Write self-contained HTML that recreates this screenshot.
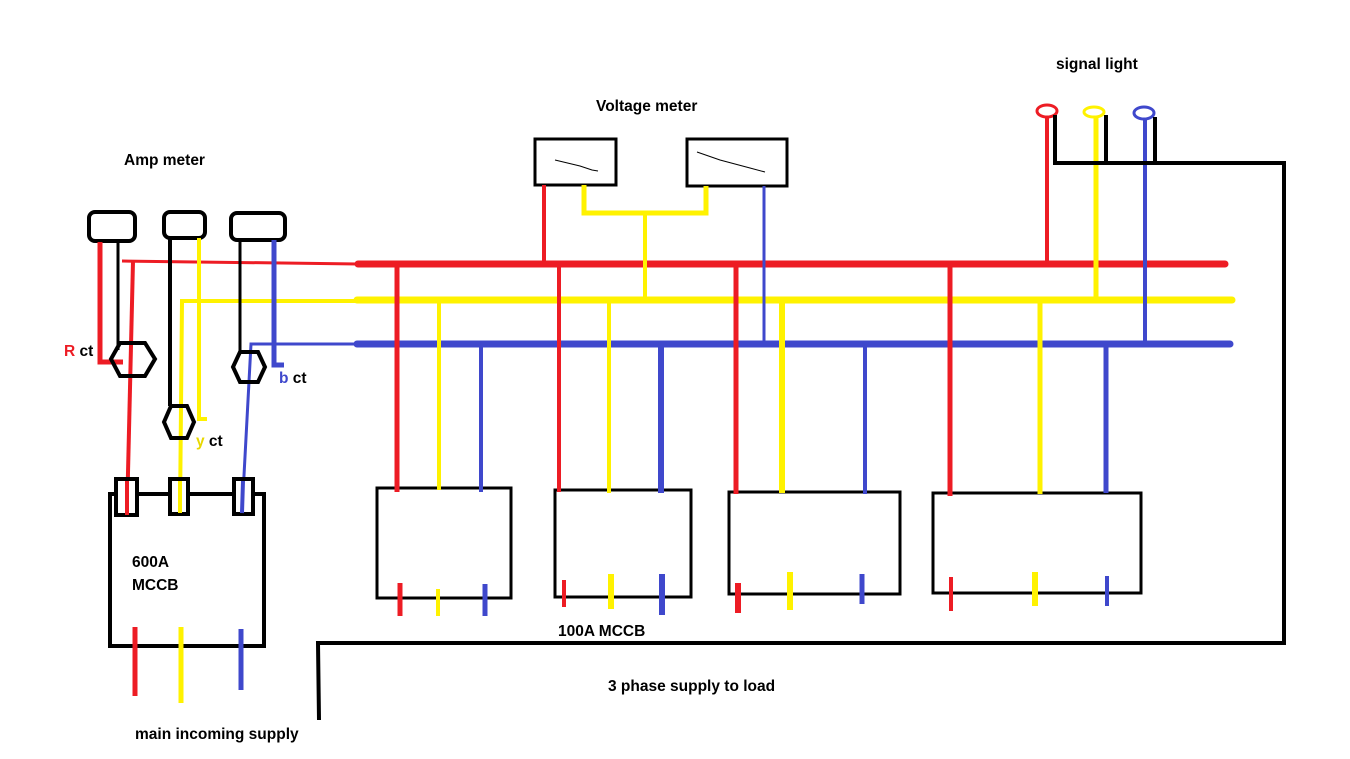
<!DOCTYPE html>
<html><head><style>body{margin:0;background:#fff}svg{display:block}text{font-family:"Liberation Sans",sans-serif;font-weight:bold;font-size:15.5px}</style></head>
<body>
<svg width="1350" height="759" viewBox="0 0 1350 759" xmlns="http://www.w3.org/2000/svg">
<rect width="1350" height="759" fill="#fff"/>
<g stroke-linecap="butt" fill="none">
<line x1="358" y1="264" x2="1225" y2="264" stroke="#ed1c24" stroke-width="7" stroke-linecap="round"/>
<line x1="357" y1="300" x2="1232" y2="300" stroke="#fff200" stroke-width="7" stroke-linecap="round"/>
<line x1="357" y1="344" x2="1230" y2="344" stroke="#3f48cc" stroke-width="7" stroke-linecap="round"/>
<rect x="89" y="212" width="46" height="29" rx="6" stroke="#000" stroke-width="4"/>
<rect x="164" y="212" width="41" height="26" rx="6" stroke="#000" stroke-width="4"/>
<rect x="231" y="213" width="54" height="27" rx="6" stroke="#000" stroke-width="4"/>
<polyline points="100,242 100,362 123,362" stroke="#ed1c24" stroke-width="5"/>
<line x1="118" y1="240" x2="118" y2="350" stroke="#000" stroke-width="3"/>
<line x1="122" y1="261" x2="358" y2="264" stroke="#ed1c24" stroke-width="3"/>
<line x1="133" y1="261" x2="127" y2="515" stroke="#ed1c24" stroke-width="4"/>
<line x1="170" y1="238" x2="170" y2="406" stroke="#000" stroke-width="4"/>
<polyline points="199,238 199,419 207,419" stroke="#fff200" stroke-width="4"/>
<polyline points="358,301 182,301 180,513" stroke="#fff200" stroke-width="4"/>
<line x1="240" y1="238" x2="240" y2="352" stroke="#000" stroke-width="3"/>
<polyline points="274,240 274,365 284,365" stroke="#3f48cc" stroke-width="5"/>
<polyline points="356,344 251,344 242,513" stroke="#3f48cc" stroke-width="3"/>
<polygon points="111,359 120,343 145,343 155,359 145,376 120,376" stroke="#000" stroke-width="4"/>
<polygon points="164,422 171,406 187,406 194,422 187,438 171,438" stroke="#000" stroke-width="4"/>
<polygon points="233,367 240,352 258,352 265,367 258,382 240,382" stroke="#000" stroke-width="4"/>
<rect x="110" y="494" width="154" height="152" stroke="#000" stroke-width="4"/>
<rect x="116" y="479" width="21" height="36" stroke="#000" stroke-width="4" fill="#fff"/>
<rect x="170" y="479" width="18" height="35" stroke="#000" stroke-width="4" fill="#fff"/>
<rect x="234" y="479" width="19" height="35" stroke="#000" stroke-width="4" fill="#fff"/>
<line x1="127" y1="481" x2="127" y2="515" stroke="#ed1c24" stroke-width="4"/>
<line x1="180" y1="481" x2="180" y2="513" stroke="#fff200" stroke-width="4"/>
<line x1="243" y1="481" x2="242" y2="513" stroke="#3f48cc" stroke-width="4"/>
<line x1="135" y1="627" x2="135" y2="696" stroke="#ed1c24" stroke-width="5"/>
<line x1="181" y1="627" x2="181" y2="703" stroke="#fff200" stroke-width="5"/>
<line x1="241" y1="629" x2="241" y2="690" stroke="#3f48cc" stroke-width="5"/>
<rect x="535" y="139" width="81" height="46" stroke="#000" stroke-width="3"/>
<rect x="687" y="139" width="100" height="47" stroke="#000" stroke-width="3"/>
<polyline points="555,160 580,166 592,170 598,171" stroke="#000" stroke-width="1"/>
<polyline points="697,152 720,160 750,168 765,172" stroke="#000" stroke-width="1"/>
<line x1="544" y1="185" x2="544" y2="264" stroke="#ed1c24" stroke-width="4"/>
<polyline points="584,185 584,213 706,213 706,186" stroke="#fff200" stroke-width="5"/>
<line x1="645" y1="213" x2="645" y2="300" stroke="#fff200" stroke-width="4"/>
<line x1="764" y1="186" x2="764" y2="344" stroke="#3f48cc" stroke-width="3"/>
<ellipse cx="1047" cy="111" rx="10" ry="6" stroke="#ed1c24" stroke-width="3"/>
<ellipse cx="1094" cy="112" rx="10" ry="5" stroke="#fff200" stroke-width="3"/>
<ellipse cx="1144" cy="113" rx="10" ry="6" stroke="#3f48cc" stroke-width="3"/>
<line x1="1047" y1="117" x2="1047" y2="264" stroke="#ed1c24" stroke-width="4"/>
<line x1="1096" y1="118" x2="1096" y2="300" stroke="#fff200" stroke-width="5"/>
<line x1="1145" y1="119" x2="1145" y2="344" stroke="#3f48cc" stroke-width="4"/>
<polyline points="1055,115 1055,163 1284,163 1284,643 318,643 319,720" stroke="#000" stroke-width="4"/>
<line x1="1106" y1="115" x2="1106" y2="163" stroke="#000" stroke-width="4"/>
<line x1="1155" y1="117" x2="1155" y2="163" stroke="#000" stroke-width="4"/>
<rect x="377" y="488" width="134" height="110" stroke="#000" stroke-width="3"/>
<rect x="555" y="490" width="136" height="107" stroke="#000" stroke-width="3"/>
<rect x="729" y="492" width="171" height="102" stroke="#000" stroke-width="3"/>
<rect x="933" y="493" width="208" height="100" stroke="#000" stroke-width="3"/>
<g stroke-width="5">
<line x1="397" y1="264" x2="397" y2="492" stroke="#ed1c24"/>
<line x1="439" y1="300" x2="439" y2="490" stroke="#fff200" stroke-width="4"/>
<line x1="481" y1="344" x2="481" y2="492" stroke="#3f48cc" stroke-width="4"/>
<line x1="559" y1="264" x2="559" y2="492" stroke="#ed1c24" stroke-width="4"/>
<line x1="609" y1="300" x2="609" y2="493" stroke="#fff200" stroke-width="4"/>
<line x1="661" y1="344" x2="661" y2="493" stroke="#3f48cc" stroke-width="6"/>
<line x1="736" y1="264" x2="736" y2="494" stroke="#ed1c24"/>
<line x1="782" y1="300" x2="782" y2="493" stroke="#fff200" stroke-width="6"/>
<line x1="865" y1="344" x2="865" y2="494" stroke="#3f48cc" stroke-width="4"/>
<line x1="950" y1="264" x2="950" y2="496" stroke="#ed1c24"/>
<line x1="1040" y1="300" x2="1040" y2="494" stroke="#fff200"/>
<line x1="1106" y1="344" x2="1106" y2="493" stroke="#3f48cc"/>
<line x1="400" y1="583" x2="400" y2="616" stroke="#ed1c24"/>
<line x1="438" y1="589" x2="438" y2="616" stroke="#fff200" stroke-width="4"/>
<line x1="485" y1="584" x2="485" y2="616" stroke="#3f48cc"/>
<line x1="564" y1="580" x2="564" y2="607" stroke="#ed1c24" stroke-width="4"/>
<line x1="611" y1="574" x2="611" y2="609" stroke="#fff200" stroke-width="6"/>
<line x1="662" y1="574" x2="662" y2="615" stroke="#3f48cc" stroke-width="6"/>
<line x1="738" y1="583" x2="738" y2="613" stroke="#ed1c24" stroke-width="6"/>
<line x1="790" y1="572" x2="790" y2="610" stroke="#fff200" stroke-width="6"/>
<line x1="862" y1="574" x2="862" y2="604" stroke="#3f48cc"/>
<line x1="951" y1="577" x2="951" y2="611" stroke="#ed1c24" stroke-width="4"/>
<line x1="1035" y1="572" x2="1035" y2="606" stroke="#fff200" stroke-width="6"/>
<line x1="1107" y1="576" x2="1107" y2="606" stroke="#3f48cc" stroke-width="4"/>
</g>
</g>
<text x="124" y="165">Amp meter</text>
<text x="596" y="111">Voltage meter</text>
<text x="1056" y="69">signal light</text>
<text x="132" y="567">600A</text>
<text x="132" y="590">MCCB</text>
<text x="558" y="636">100A MCCB</text>
<text x="608" y="691">3 phase supply to load</text>
<text x="135" y="739">main incoming supply</text>
<text x="64" y="356"><tspan fill="#ed1c24">R</tspan> ct</text>
<text x="196" y="446"><tspan fill="#e8d800">y</tspan> ct</text>
<text x="279" y="383"><tspan fill="#3f48cc">b</tspan> ct</text>
</svg>
</body></html>
